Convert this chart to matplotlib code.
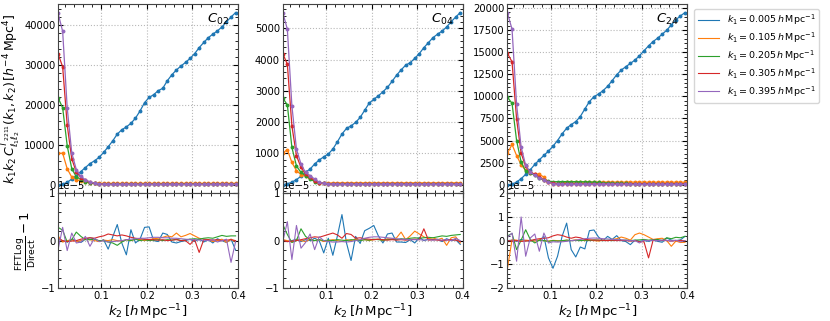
import numpy as np
import matplotlib
matplotlib.use("Agg")
import matplotlib.pyplot as plt
from matplotlib.gridspec import GridSpec
from matplotlib.ticker import AutoMinorLocator, MultipleLocator

# k2 grid (h/Mpc)
k2 = [0.005, 0.015, 0.025, 0.035, 0.045, 0.055, 0.065, 0.075, 0.085, 0.095,
      0.105, 0.115, 0.125, 0.135, 0.145, 0.155, 0.165, 0.175, 0.185, 0.195,
      0.205, 0.215, 0.225, 0.235, 0.245, 0.255, 0.265, 0.275, 0.285, 0.295,
      0.305, 0.315, 0.325, 0.335, 0.345, 0.355, 0.365, 0.375, 0.385, 0.395]

k1_labels = ["0.005", "0.105", "0.205", "0.305", "0.395"]
colors = ["#1f77b4", "#ff7f0e", "#2ca02c", "#d62728", "#9467bd"]
panel_names = [r"$C_{02}$", r"$C_{04}$", r"$C_{24}$"]

# ---- top panels: k1 k2 C(k1,k2) ----
c02_k005 = [0, 100, 600, 1400, 2300, 3300, 4300, 5300, 6000, 6850,
            8100, 9500, 11000, 12700, 13800, 14500, 15400, 16700, 18500, 20600,
            21900, 22600, 23600, 24200, 26100, 27600, 28800, 29800, 30700, 31700,
            32900, 34400, 35700, 36900, 37800, 38600, 39600, 40900, 42100, 43200]
c02_k105 = [7900, 7900, 4000, 1900, 1300, 900, 650, 480, 400, 370,
            350, 350, 340, 350, 340, 350, 350, 340, 350, 350,
            340, 350, 350, 340, 350, 350, 340, 350, 350, 340,
            350, 350, 340, 350, 350, 340, 350, 350, 340, 350]
c02_k205 = [21800, 19300, 9800, 4000, 2000, 1300, 800, 500, 300, 180,
            130, 110, 100, 100, 100, 100, 100, 100, 100, 100,
            100, 100, 100, 100, 100, 100, 100, 100, 100, 100,
            100, 100, 100, 100, 100, 100, 100, 100, 100, 100]
c02_k305 = [32800, 29600, 15000, 6500, 3200, 1800, 1100, 650, 350, 200,
            120, 90, 80, 80, 80, 80, 80, 80, 80, 80,
            80, 80, 80, 80, 80, 80, 80, 80, 80, 80,
            80, 80, 80, 80, 80, 80, 80, 80, 80, 80]
c02_k395 = [43000, 38500, 19300, 8000, 3800, 2100, 1200, 700, 400, 200,
            100, 60, 50, 50, 50, 50, 50, 50, 50, 50,
            50, 50, 50, 50, 50, 50, 50, 50, 50, 50,
            50, 50, 50, 50, 50, 50, 50, 50, 50, 50]

c04_k005 = [0, 30, 80, 160, 270, 400, 500, 660, 790, 890,
            980, 1140, 1370, 1620, 1800, 1880, 1990, 2150, 2380, 2610,
            2730, 2840, 2970, 3110, 3300, 3500, 3670, 3820, 3900, 4040,
            4190, 4380, 4540, 4700, 4810, 4910, 5040, 5210, 5360, 5500]
c04_k105 = [1010, 1120, 710, 450, 320, 270, 200, 130, 60, 40,
            50, 60, 60, 60, 60, 60, 60, 60, 60, 60,
            60, 60, 60, 60, 60, 60, 60, 60, 60, 60,
            60, 60, 60, 60, 60, 60, 60, 60, 60, 60]
c04_k205 = [2770, 2550, 1190, 600, 390, 290, 180, 100, 60, 40,
            30, 25, 20, 20, 20, 20, 20, 20, 20, 20,
            20, 20, 20, 20, 20, 20, 20, 20, 20, 20,
            20, 20, 20, 20, 20, 20, 20, 20, 20, 20]
c04_k305 = [4190, 3850, 1880, 930, 550, 340, 230, 130, 60, 40,
            30, 20, 15, 15, 15, 15, 15, 15, 15, 15,
            15, 15, 15, 15, 15, 15, 15, 15, 15, 15,
            15, 15, 15, 15, 15, 15, 15, 15, 15, 15]
c04_k395 = [5500, 4970, 2520, 1140, 660, 390, 290, 180, 75, 40,
            30, 15, 10, 10, 10, 10, 10, 10, 10, 10,
            10, 10, 10, 10, 10, 10, 10, 10, 10, 10,
            10, 10, 10, 10, 10, 10, 10, 10, 10, 10]

c24_k005 = [0, 50, 300, 680, 1170, 1690, 2290, 2820, 3310, 3800,
            4360, 5000, 5750, 6390, 6800, 7140, 7710, 8570, 9400, 9960,
            10260, 10640, 11130, 11770, 12440, 12970, 13350, 13720, 14100, 14590,
            15150, 15710, 16200, 16580, 17030, 17480, 18080, 18650, 19100, 19470]
c24_k105 = [3570, 4550, 3300, 2260, 1620, 1320, 1240, 1170, 860, 300,
            110, 110, 200, 300, 330, 330, 320, 320, 310, 300,
            300, 300, 300, 300, 290, 290, 290, 290, 290, 290,
            280, 280, 280, 280, 280, 280, 280, 280, 280, 280]
c24_k205 = [9890, 9210, 5000, 2560, 1540, 1320, 1050, 750, 490, 380,
            340, 340, 350, 350, 340, 340, 330, 320, 300, 280,
            250, 220, 200, 180, 160, 150, 140, 130, 120, 110,
            110, 100, 100, 100, 100, 100, 100, 100, 100, 100]
c24_k305 = [14850, 13900, 7440, 3570, 2070, 1430, 1170, 860, 560, 300,
            190, 120, 100, 100, 100, 100, 100, 100, 100, 100,
            100, 100, 100, 100, 100, 100, 100, 100, 100, 100,
            100, 100, 100, 100, 100, 100, 100, 100, 100, 100]
c24_k395 = [19400, 17600, 9100, 4250, 2180, 1430, 1050, 790, 560, 300,
            120, 60, 40, 40, 40, 40, 40, 40, 40, 40,
            40, 40, 40, 40, 40, 40, 40, 40, 40, 40,
            40, 40, 40, 40, 40, 40, 40, 40, 40, 40]

# ---- bottom panels: FFTLog/Direct - 1, in units of 1e-5 ----
r02_k005 = [0.02, 0.0, -0.03, 0.03, 0.0, -0.04, 0.03, 0.06, 0.04, -0.02,
            0.02, -0.18, 0.08, 0.34, -0.05, -0.30, 0.23, -0.05, 0.03, 0.28,
            0.29, 0.0, -0.02, 0.16, 0.13, -0.03, -0.05, -0.02, 0.0, 0.03,
            -0.02, 0.04, -0.03, 0.02, -0.05, 0.04, 0.0, -0.04, 0.03, -0.20]
r02_k105 = [0.10, -0.03, 0.0, 0.02, -0.02, 0.0, 0.03, 0.02, 0.0, -0.02,
            0.01, 0.0, 0.02, 0.0, -0.01, 0.02, 0.0, 0.03, 0.02, 0.0,
            0.02, 0.04, 0.05, 0.07, 0.10, 0.08, 0.16, 0.08, 0.11, 0.15,
            0.10, 0.05, 0.03, 0.02, -0.02, 0.0, 0.03, -0.04, 0.03, -0.02]
r02_k205 = [0.28, 0.22, -0.03, 0.02, 0.18, 0.09, 0.02, 0.02, 0.03, 0.0,
            0.0, -0.03, -0.05, -0.10, -0.03, 0.02, 0.0, 0.03, 0.0, 0.02,
            0.0, 0.01, 0.02, 0.0, 0.02, 0.01, 0.03, 0.0, 0.02, 0.03,
            0.04, 0.03, 0.05, 0.06, 0.05, 0.08, 0.11, 0.09, 0.10, 0.10]
r02_k305 = [0.05, 0.0, -0.02, -0.01, 0.0, 0.03, 0.05, 0.06, 0.05, 0.08,
            0.10, 0.14, 0.12, 0.10, 0.12, 0.10, 0.07, 0.05, 0.04, 0.03,
            0.02, 0.02, 0.01, 0.02, 0.0, 0.01, 0.02, 0.0, 0.0, -0.08,
            0.02, -0.25, 0.02, 0.02, 0.01, 0.02, 0.0, 0.01, 0.02, 0.0]
r02_k395 = [-0.19, 0.28, -0.21, 0.16, -0.05, -0.03, 0.09, -0.12, 0.05, -0.02,
            0.0, -0.03, -0.02, -0.01, 0.0, 0.02, 0.03, 0.04, 0.05, 0.05,
            0.06, 0.07, 0.07, 0.06, 0.06, 0.05, 0.05, 0.04, 0.03, 0.02,
            0.02, 0.01, 0.01, 0.0, 0.02, -0.03, 0.0, 0.03, -0.46, -0.02]

r04_k005 = [0.02, -0.02, 0.0, 0.03, -0.02, 0.02, 0.0, 0.05, 0.0, -0.26,
            0.05, -0.31, 0.10, 0.55, -0.05, -0.42, 0.09, -0.06, 0.21, 0.26,
            0.32, 0.10, -0.05, 0.14, 0.16, -0.03, -0.03, -0.04, 0.02, -0.05,
            0.07, 0.0, 0.03, 0.02, 0.03, -0.02, 0.04, 0.0, 0.02, -0.08]
r04_k105 = [0.02, 0.0, -0.03, 0.02, 0.0, -0.02, 0.03, 0.0, 0.02, -0.02,
            0.0, 0.02, 0.0, -0.02, 0.02, 0.0, 0.03, 0.01, 0.02, 0.0,
            0.02, 0.03, 0.0, 0.04, 0.03, 0.06, 0.18, 0.02, 0.10, 0.20,
            0.14, 0.08, 0.04, 0.06, 0.02, 0.05, -0.10, 0.06, 0.08, -0.05]
r04_k205 = [0.34, 0.13, -0.04, 0.0, 0.25, 0.09, 0.02, 0.0, 0.02, 0.0,
            0.01, 0.0, 0.02, 0.01, 0.0, 0.02, 0.01, 0.0, 0.02, 0.01,
            0.03, 0.02, 0.01, 0.02, 0.03, 0.02, 0.04, 0.03, 0.05, 0.06,
            0.05, 0.06, 0.07, 0.06, 0.08, 0.10, 0.09, 0.11, 0.12, 0.13]
r04_k305 = [0.0, -0.02, -0.01, 0.0, 0.02, 0.04, 0.06, 0.08, 0.07, 0.10,
            0.13, 0.16, 0.12, 0.05, 0.15, 0.13, 0.05, 0.06, 0.04, 0.03,
            0.02, 0.03, 0.02, 0.01, 0.02, 0.01, 0.02, 0.01, 0.02, 0.03,
            0.02, 0.25, 0.01, 0.02, 0.01, 0.0, 0.01, 0.02, 0.01, -0.02]
r04_k395 = [-0.02, 0.40, -0.40, 0.32, -0.16, -0.04, 0.14, -0.19, 0.08, 0.0,
            -0.02, -0.03, -0.03, -0.02, -0.03, -0.02, 0.0, 0.02, 0.05, 0.07,
            0.08, 0.08, 0.07, 0.06, 0.05, 0.04, 0.03, 0.03, 0.02, 0.02,
            0.02, 0.01, 0.02, 0.01, 0.02, 0.01, 0.02, 0.0, 0.05, 0.0]

r24_k005 = [0.0, 0.02, -0.03, 0.05, 0.0, -0.02, 0.03, 0.0, 0.18, -0.73,
            -1.17, -0.66, 0.18, 0.74, -0.38, -0.69, -0.27, -0.35, 0.42, 0.45,
            0.15, 0.0, 0.18, 0.05, 0.21, 0.0, -0.04, -0.17, 0.02, -0.03,
            0.0, -0.03, 0.02, -0.03, -0.07, 0.11, 0.02, 0.0, 0.03, 0.18]
r24_k105 = [-1.17, 0.04, 0.02, -0.03, 0.02, 0.0, -0.02, 0.03, 0.0, -0.02,
            0.01, 0.0, -0.02, 0.02, 0.0, 0.03, 0.02, 0.0, 0.02, 0.0,
            -0.02, 0.02, 0.0, 0.05, 0.08, 0.15, 0.10, 0.02, 0.25, 0.32,
            0.25, 0.15, 0.05, 0.08, 0.10, 0.0, -0.24, -0.02, -0.08, -0.07]
r24_k205 = [0.20, 0.30, -0.38, 0.02, 0.46, 0.05, -0.10, 0.02, 0.0, -0.03,
            0.0, -0.02, 0.0, 0.02, 0.0, 0.01, 0.0, 0.02, 0.0, 0.03,
            0.02, 0.0, 0.02, 0.0, 0.03, 0.01, 0.02, 0.0, 0.02, 0.03,
            0.05, 0.02, 0.04, 0.05, 0.0, 0.12, 0.08, 0.14, 0.12, 0.18]
r24_k305 = [0.0, -0.02, 0.0, -0.03, -0.02, 0.0, 0.05, 0.08, 0.10, 0.12,
            0.20, 0.25, 0.22, 0.15, 0.10, 0.15, 0.12, 0.05, 0.03, 0.02,
            0.02, 0.01, 0.0, 0.02, 0.0, 0.01, 0.0, -0.02, 0.0, -0.05,
            -0.05, -0.73, 0.02, 0.0, 0.01, 0.0, -0.02, 0.0, 0.01, 0.0]
r24_k395 = [0.14, 0.32, -0.87, 1.0, -0.66, 0.11, 0.28, -0.45, 0.32, -0.10,
            -0.05, -0.06, -0.05, -0.03, 0.0, 0.02, 0.05, 0.08, 0.10, 0.11,
            0.10, 0.08, 0.07, 0.05, 0.04, 0.03, 0.02, 0.0, 0.0, -0.10,
            0.02, 0.0, 0.02, 0.0, 0.02, 0.01, -0.02, 0.02, -0.05, 0.0]

top_data = [[c02_k005, c02_k105, c02_k205, c02_k305, c02_k395],
            [c04_k005, c04_k105, c04_k205, c04_k305, c04_k395],
            [c24_k005, c24_k105, c24_k205, c24_k305, c24_k395]]
bot_data = [[r02_k005, r02_k105, r02_k205, r02_k305, r02_k395],
            [r04_k005, r04_k105, r04_k205, r04_k305, r04_k395],
            [r24_k005, r24_k105, r24_k205, r24_k305, r24_k395]]
bot_lim = [1, 1, 2]

plt.rcParams["font.size"] = 7
plt.rcParams["mathtext.fontset"] = "dejavusans"

fig = plt.figure(figsize=(8.3, 3.21), dpi=100)
gs = GridSpec(2, 3, figure=fig, height_ratios=[2, 1], hspace=0, wspace=0.25,
              left=0.070, right=0.828, top=0.9875, bottom=0.103)


def style_axis(ax):
    ax.tick_params(which="both", direction="in", top=True, right=True,
                   labelsize=7.2, pad=2)
    ax.tick_params(which="major", length=3.5)
    ax.tick_params(which="minor", length=2)
    ax.xaxis.set_minor_locator(AutoMinorLocator())
    ax.yaxis.set_minor_locator(AutoMinorLocator())
    ax.grid(True, ls=":", color="#b8b8b8", lw=0.8)
    for s in ax.spines.values():
        s.set_color("#444444")


for j in range(3):
    ax_t = fig.add_subplot(gs[0, j])
    ax_b = fig.add_subplot(gs[1, j], sharex=ax_t)
    handles = []
    for i in range(5):
        ax_t.plot(k2, top_data[j][i], "-o", ms=1.8, lw=0.9, color=colors[i])
        ln, = ax_b.plot(k2, np.array(bot_data[j][i]) * 1e-5, "-", lw=0.8,
                        color=colors[i],
                        label=r"$k_1 = %s\,h\,{\rm Mpc}^{-1}$" % k1_labels[i])
        handles.append(ln)
    ax_t.set_xlim(0.005, 0.4)
    ax_t.text(0.95, 0.92, panel_names[j], transform=ax_t.transAxes,
              ha="right", va="center", fontsize=9.5)
    ax_b.set_ylim(-bot_lim[j] * 1e-5, bot_lim[j] * 1e-5)
    ax_b.yaxis.set_major_locator(MultipleLocator(1e-5))
    ax_b.set_xticks([0.1, 0.2, 0.3, 0.4])
    ax_b.set_xticklabels(["0.1", "0.2", "0.3", "0.4"])
    plt.setp(ax_t.get_xticklabels(), visible=False)
    style_axis(ax_t)
    style_axis(ax_b)
    ax_b.yaxis.get_offset_text().set_fontsize(7.2)
    ax_b.set_xlabel(r"$k_2\,[h\,{\rm Mpc}^{-1}]$", fontsize=9.5, labelpad=1)
    if j == 0:
        ax_t.set_ylabel(r"$k_1 k_2\, C^{T_{2211}}_{\ell_1\ell_2}(k_1,k_2)\,[h^{-4}\,{\rm Mpc}^4]$",
                        fontsize=9, labelpad=1)
        ax_b.set_ylabel(r"$\frac{\rm FFTLog}{\rm Direct}-1$", fontsize=9.5, labelpad=2)
    if j == 2:
        ax_t.legend(handles=handles, loc="upper left", bbox_to_anchor=(1.04, 0.975),
                    fontsize=6.8, borderaxespad=0, handlelength=2.2,
                    labelspacing=0.35)

fig.savefig("out.png", dpi=100)
